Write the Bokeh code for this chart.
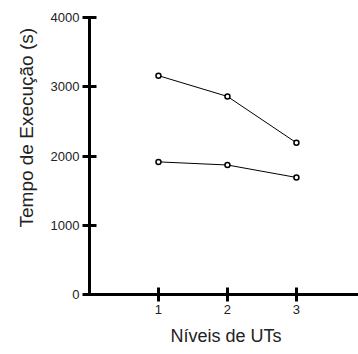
from bokeh.plotting import figure
from bokeh.models import Range1d, FixedTicker, Title
from bokeh.embed import file_html
from bokeh.resources import INLINE

# data
niveis = [1, 2, 3]
serie_a = [3160, 2860, 2190]
serie_b = [1915, 1870, 1690]
x_ticks = [1, 2, 3]
y_ticks = [0, 1000, 2000, 3000, 4000]
x_label = "Níveis de UTs"
y_label = "Tempo de Execução (s)"

FONT = "Liberation Sans"

p = figure(width=358, height=354, output_backend="svg", toolbar_location=None,
           x_range=Range1d(0, 3.9), y_range=Range1d(0, 4000),
           min_border_left=89, min_border_right=0, min_border_top=17, min_border_bottom=60)
p.outline_line_color = None
p.grid.visible = False
p.background_fill_color = "white"
p.border_fill_color = "white"

for ax in (p.xaxis[0], p.yaxis[0]):
    ax.axis_line_width = 3
    ax.axis_line_color = "black"
    ax.major_tick_line_width = 3
    ax.major_tick_line_color = "black"
    ax.major_tick_in = 7
    ax.major_tick_out = 7
    ax.minor_tick_line_color = None
    ax.major_label_text_font = FONT
    ax.major_label_text_font_size = "13px"
    ax.major_label_text_color = "#222222"
    ax.major_label_standoff = 3

p.xaxis.ticker = FixedTicker(ticks=x_ticks)
p.yaxis.ticker = FixedTicker(ticks=y_ticks)

p.add_layout(Title(text=y_label, text_font=FONT, text_font_size="19px",
                   text_font_style="normal", text_color="#222222",
                   align="left", offset=67, standoff=21), "left")
p.add_layout(Title(text=x_label, text_font=FONT, text_font_size="18px",
                   text_font_style="normal", text_color="#222222",
                   align="left", offset=81, standoff=15), "below")

for series in (serie_a, serie_b):
    p.line(niveis, series, line_color="black", line_width=1)
    p.scatter(niveis, series, marker="circle", size=5, line_color="black",
              line_width=1.5, fill_color="white")

open("out.html", "w").write(file_html(p, INLINE))
